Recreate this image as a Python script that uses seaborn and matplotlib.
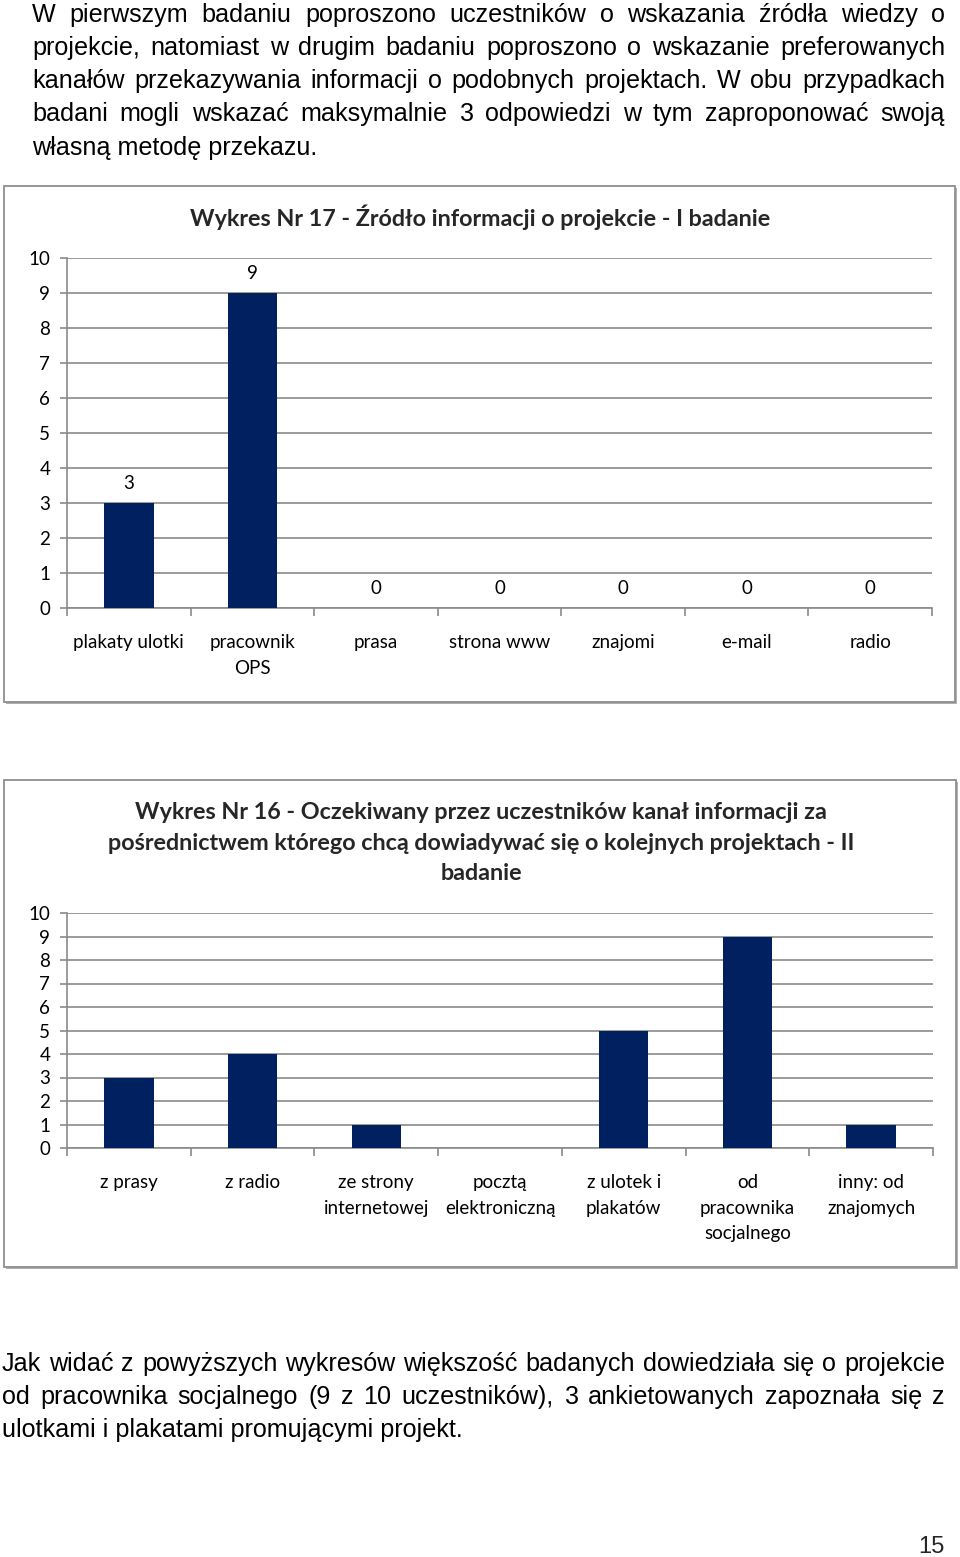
import matplotlib
matplotlib.use("Agg")
import matplotlib.pyplot as plt
import seaborn as sns
import pandas as pd
from matplotlib.patches import Rectangle
from matplotlib.ticker import FixedLocator

# ---------------- data ----------------
categories1 = ["plakaty ulotki", "pracownik\nOPS", "prasa", "strona www", "znajomi", "e-mail", "radio"]
values1 = [3, 9, 0, 0, 0, 0, 0]
title1 = "Wykres Nr 17 - Źródło informacji o projekcie - I badanie"

categories2 = ["z prasy", "z radio", "ze strony\ninternetowej", "pocztą\nelektroniczną",
               "z ulotek i\nplakatów", "od\npracownika\nsocjalnego", "inny: od\nznajomych"]
values2 = [3, 4, 1, 0, 5, 9, 1]
title2 = "Wykres Nr 16 - Oczekiwany przez uczestników kanał informacji za\npośrednictwem którego chcą dowiadywać się o kolejnych projektach - II\nbadanie"

yticks = [0, 1, 2, 3, 4, 5, 6, 7, 8, 9, 10]

top_lines = [
    "W pierwszym badaniu poproszono uczestników o wskazania źródła wiedzy o",
    "projekcie, natomiast w drugim badaniu poproszono o wskazanie preferowanych",
    "kanałów przekazywania informacji o podobnych projektach. W obu przypadkach",
    "badani mogli wskazać maksymalnie 3 odpowiedzi w tym zaproponować swoją",
    "własną metodę przekazu.",
]
bottom_lines = [
    "Jak widać z powyższych wykresów większość badanych dowiedziała się o projekcie",
    "od pracownika socjalnego (9 z 10 uczestników), 3 ankietowanych zapoznała się z",
    "ulotkami i plakatami promującymi projekt.",
]
page_number = "15"

# ---------------- style ----------------
sns.set_theme(style="white")
plt.rcParams['font.family'] = ['Lato', 'DejaVu Sans']

W, H = 960, 1557
fig = plt.figure(figsize=(W / 100, H / 100), dpi=100)
fig.patch.set_facecolor("white")

BAR = "#002060"
GRID = "#8a8a8a"
PARA_FONT = "Liberation Sans"
PARA_SIZE = 18.1
CHART_FONT = "Lato"
CHART_SIZE = 13.5
TITLE_SIZE = 16.8


def fx(px):
    return px / W


def fy(py):
    return 1 - py / H


renderer = fig.canvas.get_renderer()


def justified(lines, x0, x1, ys, justify_last=False):
    for i, (line, y) in enumerate(zip(lines, ys)):
        last = (i == len(lines) - 1) and not justify_last
        if last:
            fig.text(fx(x0), fy(y), line, fontsize=PARA_SIZE, family=PARA_FONT,
                     va="center", ha="left", color="black")
            continue
        words = line.split(" ")
        texts = [fig.text(0, fy(y), w, fontsize=PARA_SIZE, family=PARA_FONT,
                          va="center", ha="left", color="black") for w in words]
        widths = [t.get_window_extent(renderer).width for t in texts]
        gap = (x1 - x0 - sum(widths)) / (len(words) - 1)
        x = x0
        for t, wd in zip(texts, widths):
            t.set_x(fx(x))
            x += wd + gap


justified(top_lines, 32, 945, [15, 48, 81, 114, 148])
justified(bottom_lines, 2, 945, [1364, 1397, 1430])
fig.text(fx(945), fy(1547), page_number, fontsize=PARA_SIZE - 1, family=PARA_FONT,
         ha="right", va="center")


def box(x0, y0, x1, y1):
    shadow = Rectangle((fx(x0 + 2), fy(y1 + 2)), fx(x1 - x0), (y1 - y0) / H,
                       transform=fig.transFigure, facecolor="#b0b0b0", edgecolor="none", zorder=-3)
    fig.patches.append(shadow)
    r = Rectangle((fx(x0), fy(y1)), fx(x1 - x0), (y1 - y0) / H,
                  transform=fig.transFigure, facecolor="white", edgecolor="#8f8f8f",
                  linewidth=1.3, zorder=-2)
    fig.patches.append(r)


box(4, 186, 955, 702)
box(4, 780, 956, 1267)


def chart(cats, vals, left, right, top, bottom, labels):
    ax = fig.add_axes([fx(left), fy(bottom), fx(right - left), (bottom - top) / H])
    df = pd.DataFrame({"cat": cats, "val": vals})
    sns.barplot(data=df, x="cat", y="val", color=BAR, width=0.4, saturation=1,
                ax=ax, zorder=3, linewidth=0)
    ax.set_facecolor("none")
    ax.set_ylim(0, 10)
    ax.set_xlim(-0.5, len(cats) - 0.5)
    ax.set_yticks(yticks)
    ax.yaxis.grid(True, color=GRID, linewidth=1.2, zorder=0)
    ax.set_axisbelow(True)
    for s in ["top", "right"]:
        ax.spines[s].set_visible(False)
    for s in ["left", "bottom"]:
        ax.spines[s].set_color(GRID)
        ax.spines[s].set_linewidth(1.2)
    ax.set_xlabel("")
    ax.set_ylabel("")
    ax.tick_params(axis="y", which="major", left=True, length=5, width=1.2, color=GRID,
                   labelsize=CHART_SIZE, pad=7, labelcolor="black")
    ax.tick_params(axis="x", which="major", bottom=False, length=0, labelsize=CHART_SIZE,
                   pad=19, labelcolor="black")
    ax.xaxis.set_minor_locator(FixedLocator([i - 0.5 for i in range(len(cats) + 1)]))
    ax.tick_params(axis="x", which="minor", bottom=True, length=6, width=1.2, color=GRID)
    for lab in ax.get_xticklabels() + ax.get_yticklabels():
        lab.set_family(CHART_FONT)
    for lab in ax.get_xticklabels():
        lab.set_linespacing(1.6)
    if labels:
        ax.bar_label(ax.containers[0], labels=[str(v) for v in vals], padding=8,
                     fontsize=CHART_SIZE, family=CHART_FONT, color="black")
    return ax


ax1 = chart(categories1, values1, 67, 932, 258, 608, True)
ax2 = chart(categories2, values2, 67, 933, 913, 1148, False)

fig.text(fx(480), fy(217), title1, fontsize=TITLE_SIZE, fontweight="bold", family=CHART_FONT,
         ha="center", va="center")
fig.text(fx(481), fy(843), title2, fontsize=TITLE_SIZE, fontweight="bold", family=CHART_FONT,
         ha="center", va="center", linespacing=1.55)

fig.savefig("out.png", dpi=100, facecolor="white")
